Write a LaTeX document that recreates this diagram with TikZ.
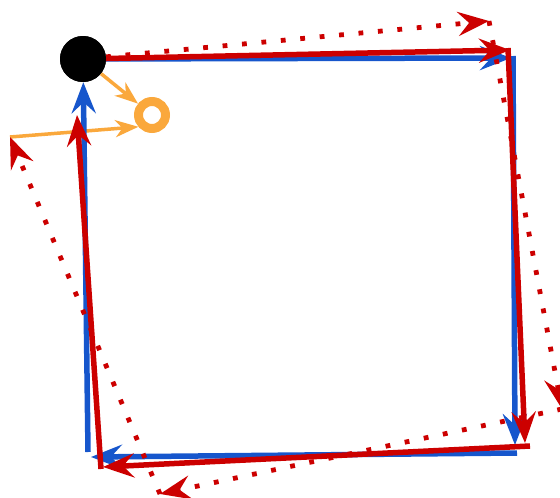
\documentclass[tikz,border=0pt]{standalone}
\usetikzlibrary{arrows.meta}
\definecolor{cblue}{RGB}{22,86,204}
\definecolor{cred}{RGB}{204,0,0}
\definecolor{corange}{RGB}{250,168,60}
\begin{document}
\begin{tikzpicture}[x=1pt,y=-1pt,
  bigtip/.style={-{Stealth[length=31pt,width=24pt,inset=11pt]}},
  blueline/.style={draw=cblue,line width=5.5pt,bigtip},
  redline/.style={draw=cred,line width=5.5pt,bigtip},
  reddots/.style={draw=cred,line width=4.8pt,dash pattern=on 4.8pt off 14.7pt,bigtip},
  orangeline/.style={draw=corange,line width=3.5pt,-{Stealth[length=23pt,width=17pt,inset=7pt]}},
  blackdot/.style={circle,fill=black,minimum size=46pt,inner sep=0pt},
  ringnode/.style={circle,draw=corange,line width=9pt,minimum size=27pt,inner sep=0pt}]
\useasboundingbox (0,0) rectangle (560,498);
\clip (0,0) rectangle (560,498);
% nodes
\node[blackdot] (dot) at (83,59) {};
\node[ringnode] (ring) at (152,115) {};
% coordinates
\coordinate (oS) at (10,137);
\coordinate (bBL) at (88,452);
\coordinate (bTR) at (511,58);
\coordinate (bRs) at (513,56);
\coordinate (bRtip) at (515,445);
\coordinate (bBR) at (517,453);
\coordinate (bBtip) at (91,457);
\coordinate (rBL) at (101,469);
\coordinate (rLtip) at (77,115);
\coordinate (rTR) at (510,50);
\coordinate (rRs) at (508,48);
\coordinate (rRtip) at (525,443);
\coordinate (rBR) at (530,446);
\coordinate (rBtip) at (103,467);
\coordinate (dTR) at (489,21);
\coordinate (dBR) at (562,409);
\coordinate (dBL) at (160,494);
% orange
\draw[orangeline] (dot) -- (ring);
\draw[orangeline] (oS) -- (ring.221);
% blue
\draw[blueline] (bBL) -- (dot);
\draw[blueline] (dot) -- (bTR);
\draw[blueline] (bRs) -- (bRtip);
\draw[blueline] (bBR) -- (bBtip);
% red solid
\draw[redline] (rBL) -- (rLtip);
\draw[redline] (dot) -- (rTR);
\draw[redline] (rRs) -- (rRtip);
\draw[redline] (rBR) -- (rBtip);
% red dotted
\draw[reddots] (dot) -- (dTR);
\draw[reddots] (dTR) -- (dBR);
\draw[reddots] (dBR) -- (dBL);
\draw[reddots] (dBL) -- (oS);
% dot on top
\node[blackdot] at (dot) {};
\end{tikzpicture}
\end{document}
